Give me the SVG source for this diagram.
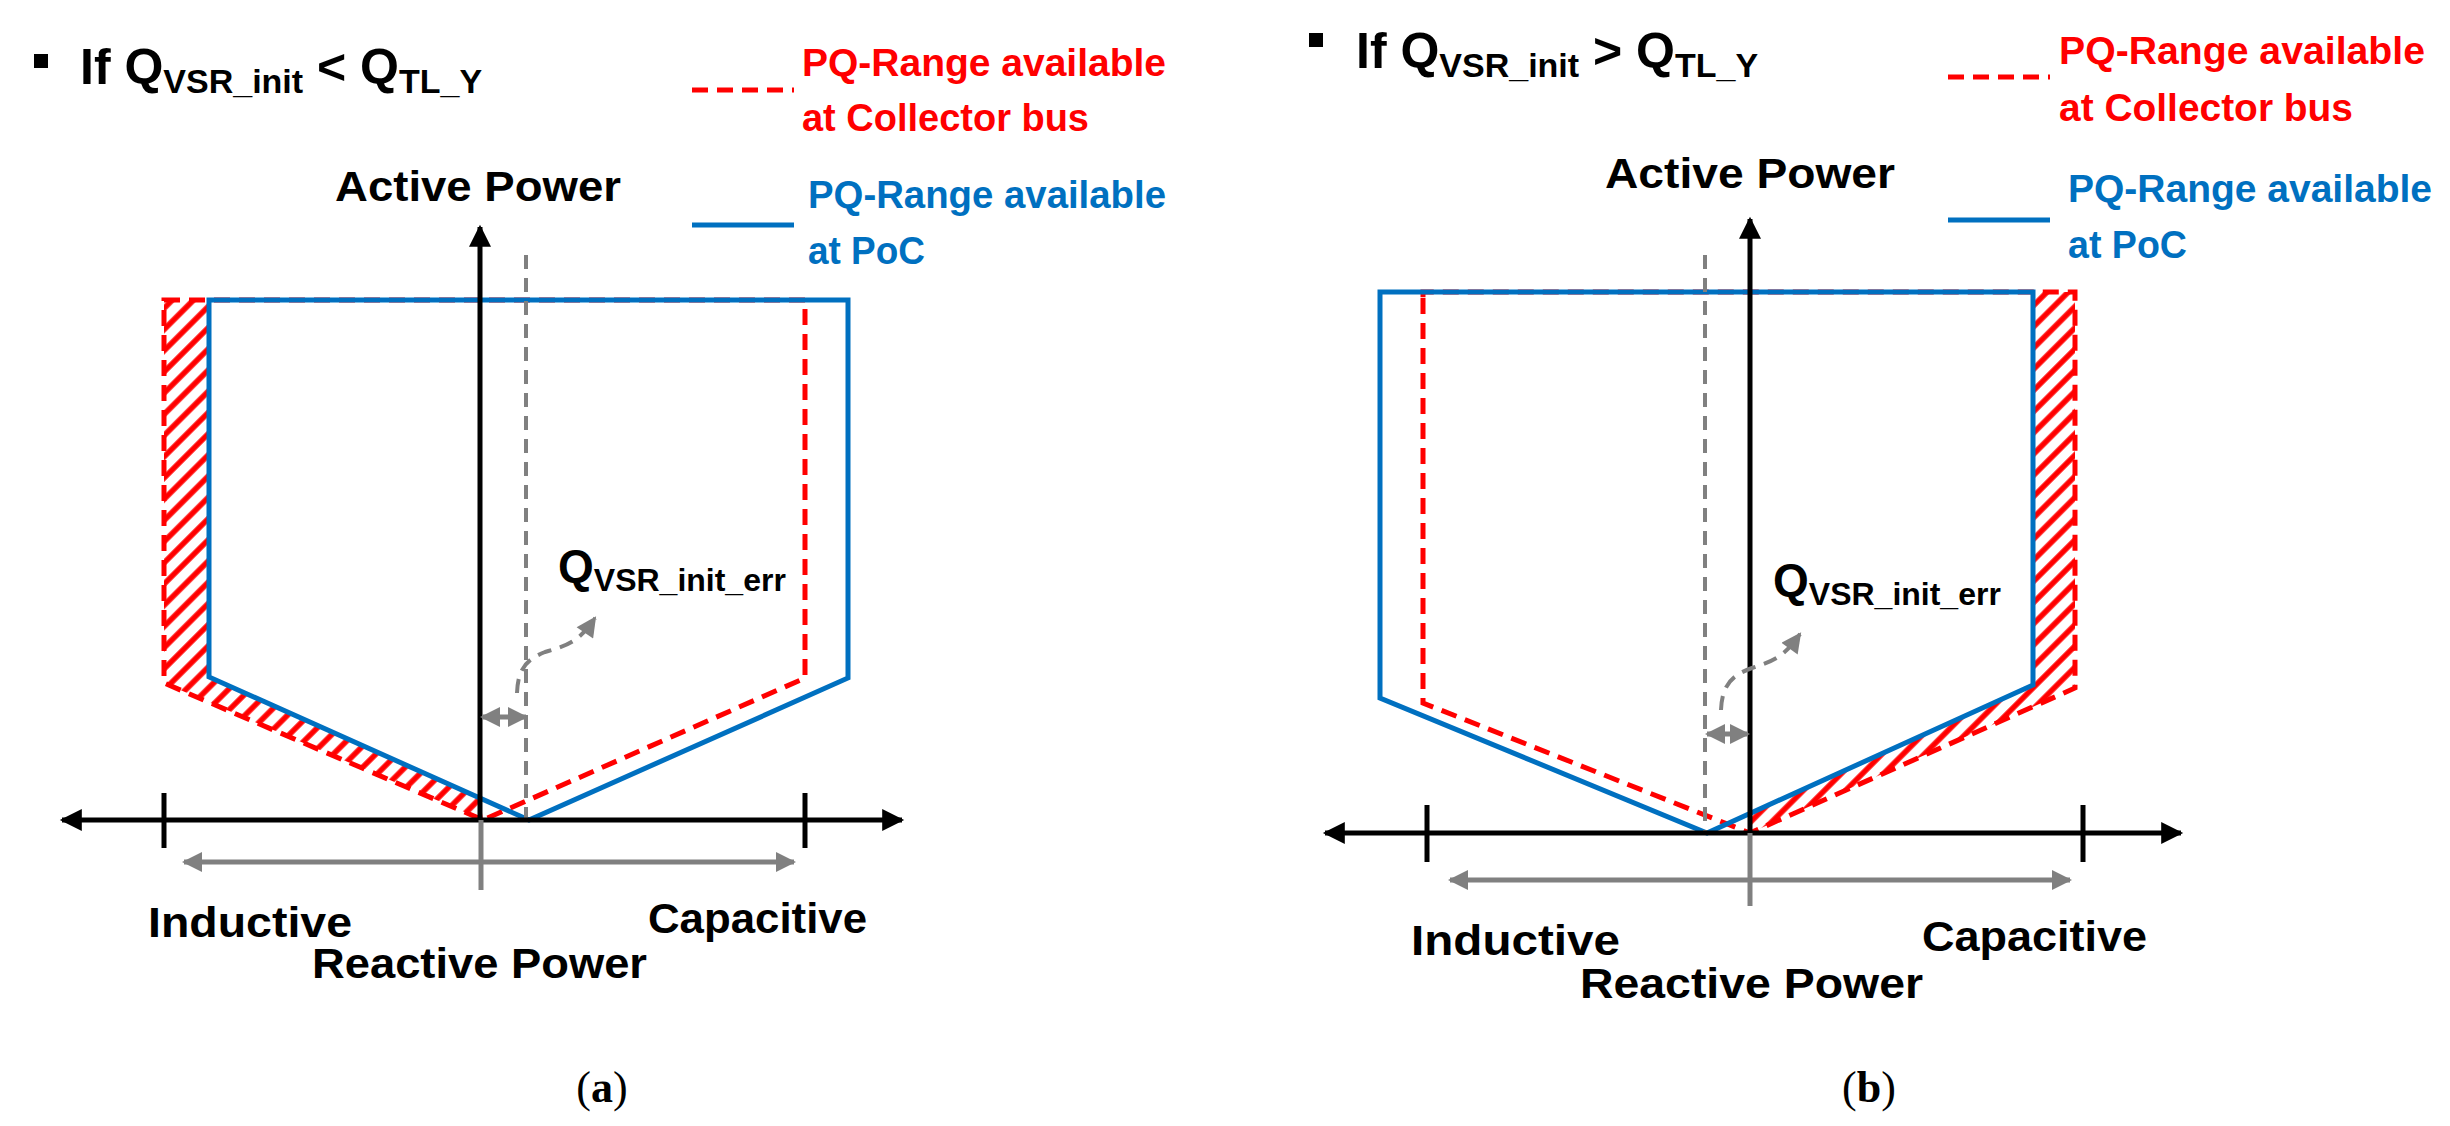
<svg xmlns="http://www.w3.org/2000/svg" width="2450" height="1126" viewBox="0 0 2450 1126">
<style>
text{font-family:"Liberation Sans",Arial,sans-serif;font-weight:bold;fill:#000}
.red{fill:#ff0000}.blue{fill:#0070c0}
.ax{stroke:#000;stroke-width:5;fill:none}
.gr{stroke:#808080;stroke-width:5;fill:none}
.grd{stroke:#808080;stroke-width:4;fill:none;stroke-dasharray:14 9}
.rd{stroke:#ff0000;stroke-width:5;fill:none;stroke-dasharray:16 9}
.bl{stroke:#0070c0;stroke-width:5;fill:none}
.cap{font-family:"Liberation Serif",serif;font-weight:normal;font-size:44px}
</style>
<defs>
<marker id="ab" viewBox="0 0 10 10" refX="9" refY="5" markerWidth="26" markerHeight="22" markerUnits="userSpaceOnUse" orient="auto-start-reverse"><path d="M0,0 L10,5 L0,10 z" fill="#000"/></marker>
<marker id="ag" viewBox="0 0 10 10" refX="9" refY="5" markerWidth="24" markerHeight="20" markerUnits="userSpaceOnUse" orient="auto-start-reverse"><path d="M0,0 L10,5 L0,10 z" fill="#808080"/></marker>
<pattern id="hatch" width="15" height="15" patternUnits="userSpaceOnUse" patternTransform="rotate(45)"><line x1="4" y1="0" x2="4" y2="15" stroke="#ff0000" stroke-width="5.5"/></pattern>
</defs>

<g id="panel-a">
  <g id="title-a">
    <rect x="34" y="54" width="14" height="14" fill="#000"/>
    <text x="80" y="84" font-size="50">If Q<tspan font-size="34" dy="9">VSR_init</tspan><tspan dy="-9"> &lt; Q</tspan><tspan font-size="34" dy="9">TL_Y</tspan></text>
  </g>
  <g id="legend-a">
    <line x1="692" y1="90" x2="794" y2="90" class="rd" stroke-width="7" stroke-dasharray="20 8"/>
    <text x="802" y="76" font-size="38" class="red" textLength="364" lengthAdjust="spacingAndGlyphs">PQ-Range available</text>
    <text x="802" y="131" font-size="38" class="red" textLength="287" lengthAdjust="spacingAndGlyphs">at Collector bus</text>
    <line x1="692" y1="225" x2="794" y2="225" class="bl" stroke-width="7"/>
    <text x="808" y="208" font-size="38" class="blue" textLength="358" lengthAdjust="spacingAndGlyphs">PQ-Range available</text>
    <text x="808" y="264" font-size="38" class="blue" textLength="117" lengthAdjust="spacingAndGlyphs">at PoC</text>
  </g>
  <g id="region-a">
    <polygon points="164,300 209,300 209,677 480,798 483,820 164,683" fill="url(#hatch)"/>
    <polygon points="164,300 805,300 805,678 483,820 164,683" class="rd"/>
    <polygon points="209,300 848,300 848,678 529,820 209,677" class="bl"/>
  </g>
  <g id="axes-a">
    <line x1="480" y1="820" x2="480" y2="227" class="ax" stroke-width="4" marker-end="url(#ab)"/>
    <line x1="526" y1="255" x2="526" y2="820" class="grd"/>
    <line x1="62" y1="820" x2="902" y2="820" class="ax" marker-start="url(#ab)" marker-end="url(#ab)"/>
    <line x1="164" y1="793" x2="164" y2="848" class="ax" stroke-width="4"/>
    <line x1="805" y1="793" x2="805" y2="848" class="ax" stroke-width="4"/>
    <line x1="184" y1="862" x2="794" y2="862" class="gr" marker-start="url(#ag)" marker-end="url(#ag)"/>
    <line x1="481" y1="820" x2="481" y2="890" class="gr" stroke-width="3"/>
    <line x1="482" y1="717" x2="526" y2="717" class="gr" marker-start="url(#ag)" marker-end="url(#ag)"/>
    <path d="M517,693 C518,670 525,660 545,652 C570,645 580,640 595,618" class="grd" stroke-width="5" stroke-dasharray="10 7" marker-end="url(#ag)"/>
  </g>
  <text x="478" y="201" font-size="42" text-anchor="middle" textLength="286" lengthAdjust="spacingAndGlyphs">Active Power</text>
  <text x="558" y="582" font-size="46">Q<tspan font-size="32" dy="9">VSR_init_err</tspan></text>
  <text x="148" y="937" font-size="42" textLength="204" lengthAdjust="spacingAndGlyphs">Inductive</text>
  <text x="648" y="933" font-size="42" textLength="219" lengthAdjust="spacingAndGlyphs">Capacitive</text>
  <text x="312" y="978" font-size="42" textLength="335" lengthAdjust="spacingAndGlyphs">Reactive Power</text>
  <text x="602" y="1102" class="cap" text-anchor="middle">(<tspan font-weight="bold">a</tspan>)</text>
</g>

<g id="panel-b">
  <g id="title-b">
    <rect x="1309" y="33" width="14" height="14" fill="#000"/>
    <text x="1356" y="68" font-size="50">If Q<tspan font-size="34" dy="9">VSR_init</tspan><tspan dy="-9"> &gt; Q</tspan><tspan font-size="34" dy="9">TL_Y</tspan></text>
  </g>
  <g id="legend-b">
    <line x1="1948" y1="77" x2="2050" y2="77" class="rd" stroke-width="7" stroke-dasharray="20 8"/>
    <text x="2059" y="64" font-size="38" class="red" textLength="366" lengthAdjust="spacingAndGlyphs">PQ-Range available</text>
    <text x="2059" y="121" font-size="38" class="red" textLength="294" lengthAdjust="spacingAndGlyphs">at Collector bus</text>
    <line x1="1948" y1="220" x2="2050" y2="220" class="bl" stroke-width="7"/>
    <text x="2068" y="202" font-size="38" class="blue" textLength="364" lengthAdjust="spacingAndGlyphs">PQ-Range available</text>
    <text x="2068" y="258" font-size="38" class="blue" textLength="119" lengthAdjust="spacingAndGlyphs">at PoC</text>
  </g>
  <g id="region-b">
    <polygon points="2033,292 2075,292 2075,688 1750,833 1750,814 2033,685" fill="url(#hatch)"/>
    <polygon points="1423,298 1423,703 1750,833 2075,688 2075,292 1423,292" class="rd"/>
    <polygon points="1380,292 2033,292 2033,685 1707,833 1380,698" class="bl"/>
  </g>
  <g id="axes-b">
    <line x1="1750" y1="833" x2="1750" y2="219" class="ax" stroke-width="4" marker-end="url(#ab)"/>
    <line x1="1705" y1="255" x2="1705" y2="833" class="grd"/>
    <line x1="1325" y1="833" x2="2181" y2="833" class="ax" marker-start="url(#ab)" marker-end="url(#ab)"/>
    <line x1="1427" y1="805" x2="1427" y2="862" class="ax" stroke-width="4"/>
    <line x1="2083" y1="805" x2="2083" y2="862" class="ax" stroke-width="4"/>
    <line x1="1450" y1="880" x2="2070" y2="880" class="gr" marker-start="url(#ag)" marker-end="url(#ag)"/>
    <line x1="1750" y1="833" x2="1750" y2="906" class="gr" stroke-width="3"/>
    <line x1="1707" y1="734" x2="1748" y2="734" class="gr" marker-start="url(#ag)" marker-end="url(#ag)"/>
    <path d="M1721,710 C1722,685 1732,675 1752,668 C1777,660 1785,655 1800,634" class="grd" stroke-width="5" stroke-dasharray="10 7" marker-end="url(#ag)"/>
  </g>
  <text x="1750" y="188" font-size="42" text-anchor="middle" textLength="290" lengthAdjust="spacingAndGlyphs">Active Power</text>
  <text x="1773" y="596" font-size="46">Q<tspan font-size="32" dy="9">VSR_init_err</tspan></text>
  <text x="1411" y="955" font-size="42" textLength="209" lengthAdjust="spacingAndGlyphs">Inductive</text>
  <text x="1922" y="951" font-size="42" textLength="225" lengthAdjust="spacingAndGlyphs">Capacitive</text>
  <text x="1580" y="998" font-size="42" textLength="343" lengthAdjust="spacingAndGlyphs">Reactive Power</text>
  <text x="1869" y="1102" class="cap" text-anchor="middle">(<tspan font-weight="bold">b</tspan>)</text>
</g>
</svg>
